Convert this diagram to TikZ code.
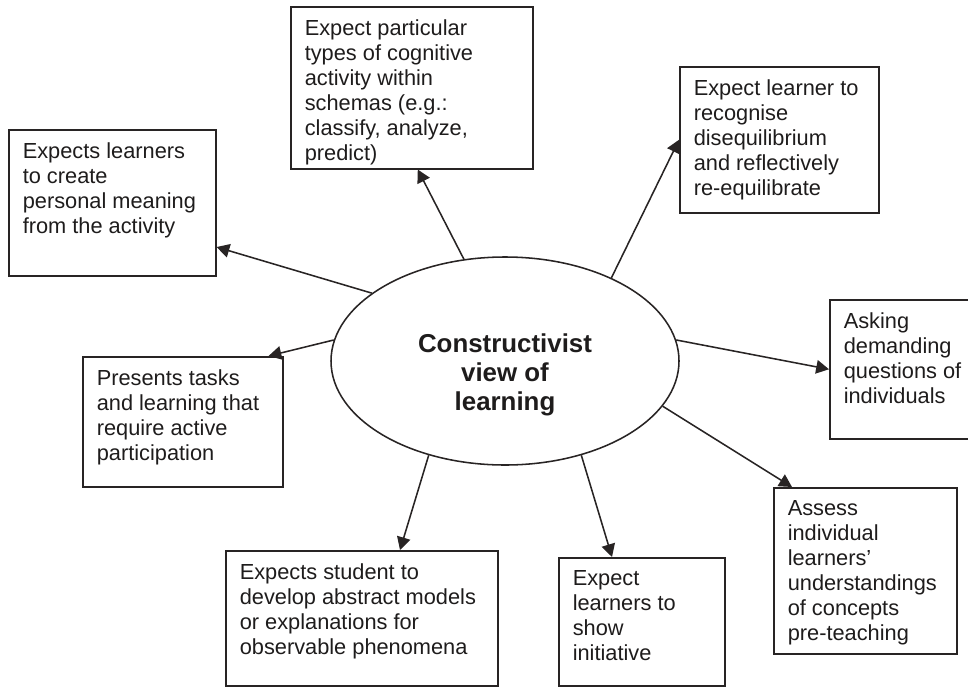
\documentclass[tikz,border=0pt]{standalone}
\usepackage{fontspec}
\setmainfont{Liberation Sans}
\usepackage{xcolor}
\usepackage{tikz}
\usetikzlibrary{shapes.geometric, arrows.meta, positioning, calc}
\definecolor{inkdark}{RGB}{30,28,28}
\definecolor{inkline}{RGB}{40,36,36}
\newcommand{\boxtext}[3]{\parbox[t][#2][t]{#1}{\raggedright\hyphenpenalty=10000 #3}}
\tikzset{
  idea/.style={rectangle, draw=inkline, anchor=north west,
    inner xsep=0.35cm, inner ysep=0.32cm, line width=1.1pt,
    text=inkdark, font=\fontsize{15.5}{17.8}\selectfont},
  hub/.style={ellipse, draw=inkline, minimum width=8.7cm,
    minimum height=5.2cm, inner sep=0pt, line width=1.1pt},
  hubtext/.style={align=center, text=inkdark,
    font=\bfseries\fontsize{18.4}{20.4}\selectfont},
  arrow/.style={-{Triangle[length=0.32cm, width=0.34cm]}, line width=1.1pt, color=inkline}
}

\begin{document}
\begin{tikzpicture}
  \useasboundingbox (0,0) rectangle (24.2,-17.15);
  \clip (0,0) rectangle (24.2,-17.15);

  % Hub
  \node[hub] (hub) at (12.625,-9.025) {};
  \node[hubtext] (hublabel) at ([yshift=-0.35cm]hub.center) {Constructivist\\view of\\learning};

  % Boxes
  \node[idea] (meaning) at (0.2,-3.225)
    {\boxtext{4.475cm}{3.01cm}{Expects learners\\to create\\personal meaning\\from the activity}};
  \node[idea] (schemas) at (7.25,-0.15)
    {\boxtext{5.35cm}{3.41cm}{Expect particular\\types of cognitive\\activity within\\schemas (e.g.:\\classify, analyze,\\predict)}};
  \node[idea] (disequil) at (16.975,-1.65)
    {\boxtext{4.275cm}{3.01cm}{Expect learner to\\recognise\\disequilibrium\\and reflectively\\re-equilibrate}};
  \node[idea] (questions) at (20.725,-7.475)
    {\boxtext{3.2cm}{2.835cm}{Asking\\demanding\\questions of\\individuals}};
  \node[idea] (assess) at (19.325,-12.175)
    {\boxtext{3.875cm}{3.51cm}{Assess\\individual\\learners'\\understandings\\of concepts\\pre-teaching}};
  \node[idea] (initiative) at (13.95,-13.925)
    {\boxtext{3.45cm}{2.56cm}{Expect\\learners to\\show\\initiative}};
  \node[idea] (models) at (5.625,-13.75)
    {\boxtext{6.1cm}{2.735cm}{Expects student to\\develop abstract models\\or explanations for\\observable phenomena}};
  \node[idea] (tasks) at (2.05,-8.9)
    {\boxtext{4.3cm}{2.61cm}{Presents tasks\\and learning that\\require active\\participation}};

  % Arrows
  \draw[arrow] (hub.153.8) -- (meaning.-23.5);
  \draw[arrow] (hub.112.7) -- ([xshift=0.15cm]schemas.south);
  \draw[arrow] (hub.38) -- (disequil.west);
  \draw[arrow] (hub.7) -- (questions.west);
  \draw[arrow] (hub.-16) -- ([xshift=0.475cm]assess.north west);
  \draw[arrow] (hub.-51) -- ([xshift=1.35cm]initiative.north west);
  \draw[arrow] (hub.-129) -- ([xshift=4.375cm]models.north west);
  \draw[arrow] (hub.173) -- ([xshift=-0.375cm]tasks.north east);
\end{tikzpicture}
\end{document}
